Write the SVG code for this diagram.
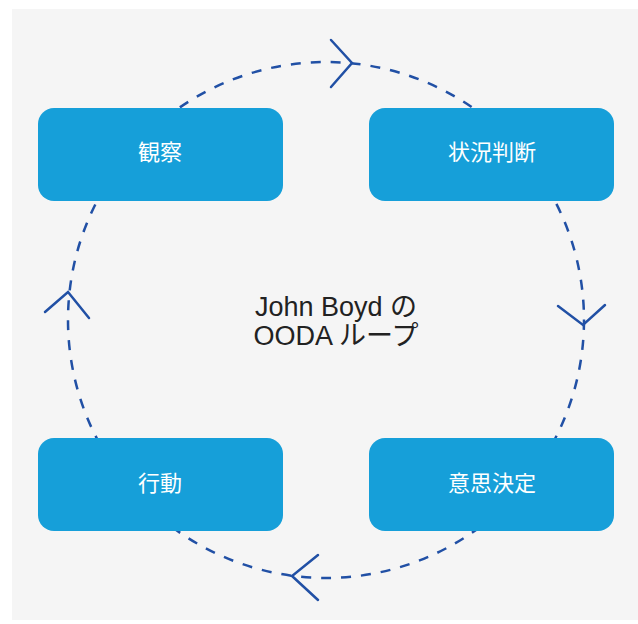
<svg xmlns="http://www.w3.org/2000/svg" width="638" height="624" viewBox="0 0 638 624">
<style>
.bg{fill:#f5f5f5}
.node rect{fill:#169fd9}
.node text{fill:#ffffff;font-family:"Noto Sans CJK JP","Noto Sans",sans-serif;font-size:22px;text-anchor:middle;dominant-baseline:central}
.ring{fill:none;stroke:#2150a5;stroke-width:2.5;stroke-dasharray:10 10}
.head{fill:none;stroke:#2150a5;stroke-width:2.5;stroke-linecap:round;stroke-linejoin:miter}
.title{fill:#222222;font-family:"Liberation Sans","Noto Sans CJK JP",sans-serif;font-size:27px;text-anchor:middle}
</style>
<rect class="bg" x="12" y="9" width="626" height="611"/>
<g id="connectors">
<circle class="ring" cx="326" cy="320" r="258"/>
<path class="head" d="M331,40 L352,63 L331,87"/>
<path class="head" d="M558,306 L583,325 L605,305"/>
<path class="head" d="M318,555 L292,576 L318,600"/>
<path class="head" d="M45,312 L68,292 L89,318"/>
</g>
<g id="node-kansatsu" class="node"><rect x="38" y="108" width="245" height="93" rx="16"/><text x="160" y="150">観察</text></g>
<g id="node-jokyo" class="node"><rect x="369" y="108" width="245" height="93" rx="16"/><text x="492" y="150">状況判断</text></g>
<g id="node-kodo" class="node"><rect x="38" y="438" width="245" height="93" rx="16"/><text x="160" y="481">行動</text></g>
<g id="node-ishi" class="node"><rect x="369" y="438" width="245" height="93" rx="16"/><text x="492" y="481">意思決定</text></g>
<g id="center-label"><text class="title" x="336" y="316">John Boyd の</text><text class="title" x="336" y="345">OODA ループ</text></g>
</svg>
